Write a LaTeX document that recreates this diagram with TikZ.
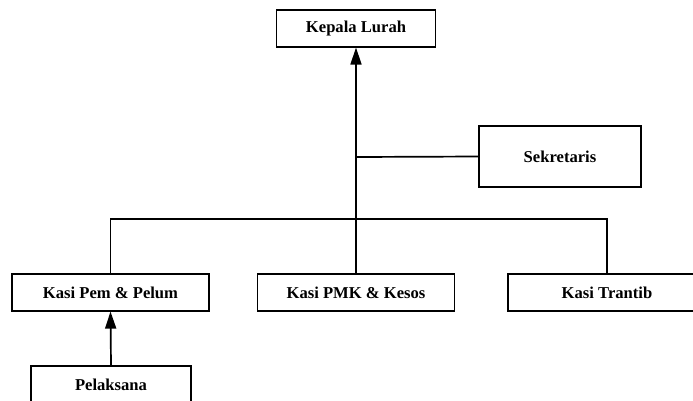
\documentclass[tikz,border=0pt]{standalone}
\usepackage{fontspec}
\setmainfont{Liberation Serif}
\usetikzlibrary{arrows.meta}

\begin{document}
\begin{tikzpicture}[x=1pt, y=-1pt,
  jabatan/.style={draw, line width=1.1pt, inner sep=0pt, minimum height=37pt, font=\fontsize{16.6}{19}\selectfont\bfseries},
  garis/.style={line width=1.7pt},
  panah/.style={garis, -{Triangle[width=11pt,length=17pt]}}]
\useasboundingbox (0,0) rectangle (693,400);
% kotak jabatan
\node[jabatan, minimum width=159pt] (kepala) at (356,28.5) {Kepala Lurah};
\node[jabatan, minimum width=162pt, minimum height=61pt] (sekretaris) at (560,156.5) {Sekretaris};
\node[jabatan, minimum width=197pt] (pem) at (110.5,292.5) {Kasi Pem \& Pelum};
\node[jabatan, minimum width=197pt] (pmk) at (356,292.5) {Kasi PMK \& Kesos};
\node[jabatan, minimum width=198pt] (trantib) at (607,292.5) {Kasi Trantib};
\node[jabatan, minimum width=160pt, minimum height=38pt] (pelaksana) at (111,385) {Pelaksana};
% titik cabang
\coordinate (cabang) at (356,219);
\coordinate (cabangsek) at (356,157);
% garis komando
\draw[panah] (cabang) -- (kepala.south);
\draw[garis] (cabangsek) -- (sekretaris.west);
\draw[garis] (pem.north) |- (cabang) -| (trantib.north);
\draw[garis] (pmk.north) -- (cabang);
\draw[panah] (pelaksana.north) -- (pem.south);
\end{tikzpicture}
\end{document}
